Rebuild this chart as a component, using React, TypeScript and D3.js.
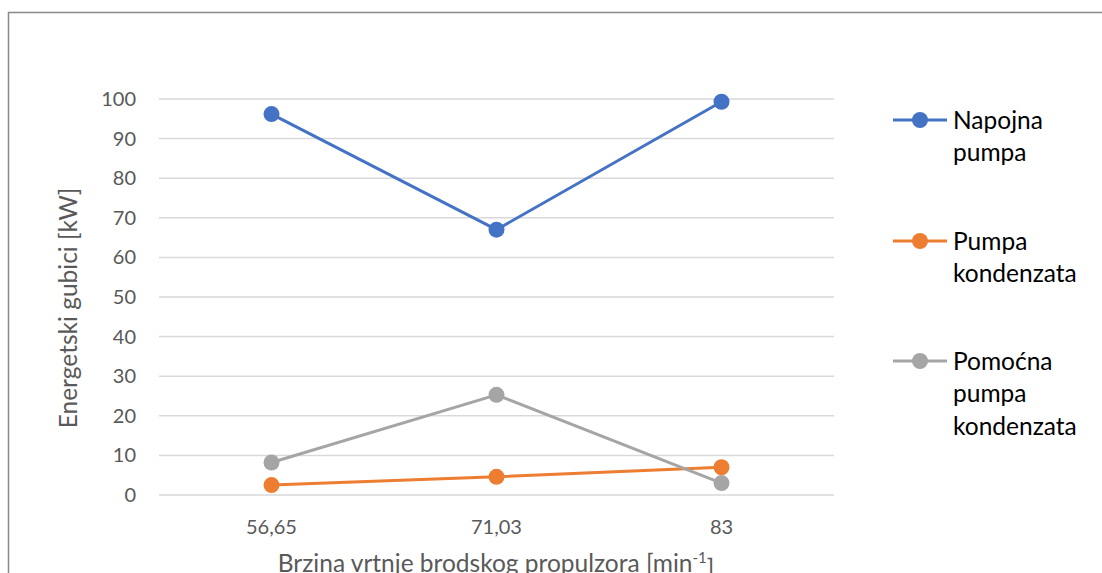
import React from "react";
import * as d3 from "d3";

const categories = ["56,65", "71,03", "83"];
const napojna = [96.2, 67.0, 99.3];
const kondenzat = [2.5, 4.6, 7.0];
const pomocna = [8.2, 25.3, 3.0];
const yTicks = [0, 10, 20, 30, 40, 50, 60, 70, 80, 90, 100];

const series = [
  { name: ["Napojna", "pumpa"], values: napojna, color: "#4472C4" },
  { name: ["Pumpa", "kondenzata"], values: kondenzat, color: "#ED7D31" },
  { name: ["Pomoćna", "pumpa", "kondenzata"], values: pomocna, color: "#A5A5A5" },
];

const FONT = "Lato, 'Noto Sans', sans-serif";

export default function App() {
  const W = 1102, H = 573;
  const x = d3.scaleBand<string>().domain(categories).range([159, 834]);
  const y = d3.scaleLinear().domain([0, 100]).range([495, 99]);
  const line = d3
    .line<number>()
    .x((_, i) => (x(categories[i]) as number) + x.bandwidth() / 2)
    .y((d) => y(d));
  const legendY = [120, 241, 361];
  return (
    <svg width={W} height={H} style={{ position: "absolute", left: 0, top: 0, display: "block", background: "#fff" }}>
      <rect x={8.5} y={12.5} width={1200} height={700} fill="#fff" stroke="#898989" strokeWidth={1.5} />
      {yTicks.map((t) => (
        <g key={t}>
          <line x1={159} x2={834} y1={y(t)} y2={y(t)} stroke="#D9D9D9" strokeWidth={1.5} />
          <text x={136} y={y(t)} dy="0.35em" textAnchor="end" fontFamily={FONT} fontSize={20} fill="#595959">
            {t}
          </text>
        </g>
      ))}
      {categories.map((c) => (
        <text key={c} x={(x(c) as number) + x.bandwidth() / 2} y={527} dy="0.35em" textAnchor="middle" fontFamily={FONT} fontSize={20} fill="#595959">
          {c}
        </text>
      ))}
      <text transform="translate(68,308) rotate(-90)" textAnchor="middle" dy="0.35em" fontFamily={FONT} fontSize={24.5} fill="#595959">
        Energetski gubici [kW]
      </text>
      <text x={496} y={563} dy="0.35em" textAnchor="middle" fontFamily={FONT} fontSize={24.5} fill="#595959">
        Brzina vrtnje brodskog propulzora [min
        <tspan dy="-0.6em" fontSize={15}>-1</tspan>
        <tspan dy="0.6em">]</tspan>
      </text>
      {series.map((s) => (
        <g key={s.color}>
          <path d={line(s.values) || ""} fill="none" stroke={s.color} strokeWidth={3} strokeLinejoin="round" />
          {s.values.map((v, i) => (
            <circle key={i} cx={(x(categories[i]) as number) + x.bandwidth() / 2} cy={y(v)} r={8} fill={s.color} />
          ))}
        </g>
      ))}
      {series.map((s, k) => (
        <g key={"l" + k}>
          <line x1={893} x2={947} y1={legendY[k]} y2={legendY[k]} stroke={s.color} strokeWidth={3} />
          <circle cx={920} cy={legendY[k]} r={8} fill={s.color} />
          {s.name.map((n, j) => (
            <text key={j} x={953} y={legendY[k] + j * 32.5} dy="0.35em" fontFamily={FONT} fontSize={24.5} fill="#000">
              {n}
            </text>
          ))}
        </g>
      ))}
    </svg>
  );
}
